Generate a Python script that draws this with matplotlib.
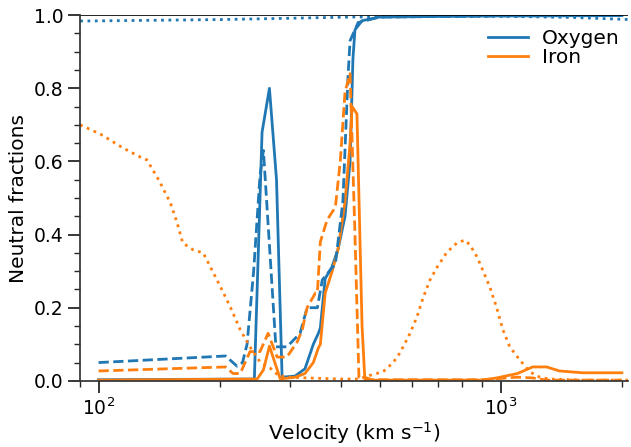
import matplotlib
matplotlib.use("Agg")
import matplotlib.pyplot as plt
from matplotlib.ticker import AutoMinorLocator

# velocity grids (km/s) and neutral fractions
v_o_solid = [100, 244, 255, 266, 277, 286, 308, 326, 342, 352, 356, 366, 380, 394,
             410, 422, 429, 434, 452, 500, 1000, 2000]
f_o_solid = [0.003, 0.005, 0.68, 0.80, 0.55, 0.01, 0.013, 0.033, 0.10, 0.13, 0.145, 0.28,
             0.31, 0.36, 0.45, 0.60, 0.88, 0.96, 0.985, 0.995, 0.998, 0.999]

v_o_dashed = [100, 207, 221, 228, 234, 243, 252, 257, 276, 294, 317, 330, 346, 350,
              360, 388, 405, 417, 422, 442, 500, 1000, 2000]
f_o_dashed = [0.05, 0.068, 0.04, 0.05, 0.10, 0.30, 0.56, 0.63, 0.093, 0.093, 0.13, 0.20,
              0.20, 0.20, 0.276, 0.32, 0.49, 0.83, 0.93, 0.98, 0.995, 0.998, 0.999]

v_o_dotted = [90, 200, 430, 1000, 1500, 2100]
f_o_dotted = [0.984, 0.988, 0.995, 0.997, 0.994, 0.988]

v_fe_solid = [100, 248, 257, 266, 283, 308, 326, 342, 352, 356, 366, 381, 394, 410,
              422, 427, 439, 452, 459, 480, 900, 977, 1100, 1200, 1300, 1400, 1600, 2000]
f_fe_solid = [0.002, 0.005, 0.03, 0.095, 0.005, 0.01, 0.02, 0.05, 0.09, 0.10, 0.24, 0.30,
              0.36, 0.49, 0.65, 0.75, 0.73, 0.15, 0.01, 0.002, 0.002, 0.008, 0.02, 0.038,
              0.038, 0.027, 0.022, 0.022]

v_fe_dashed = [100, 207, 216, 225, 238, 252, 264, 278, 294, 312, 321, 330, 346, 350,
               356, 370, 388, 399, 410, 422, 434, 444, 460, 900, 1100, 1200, 1300, 2000]
f_fe_dashed = [0.027, 0.038, 0.02, 0.02, 0.08, 0.08, 0.13, 0.065, 0.065, 0.107, 0.14,
               0.20, 0.24, 0.24, 0.38, 0.44, 0.475, 0.60, 0.79, 0.84, 0.40, 0.01, 0.003,
               0.003, 0.01, 0.008, 0.002, 0.002]

v_fe_dotted = [90, 101, 115, 127, 132, 142, 151, 157, 162, 172, 182, 190, 201, 213, 225,
               238, 252, 267, 280, 294, 330, 400, 444, 473, 510, 540, 562, 595, 619, 641,
               667, 694, 735, 778, 814, 838, 872, 902, 939, 977, 1012, 1053, 1115, 1180,
               1250, 1323, 1600, 2100]
f_fe_dotted = [0.70, 0.675, 0.637, 0.612, 0.604, 0.544, 0.486, 0.43, 0.377, 0.358, 0.35,
               0.31, 0.257, 0.20, 0.14, 0.093, 0.052, 0.035, 0.015, 0.01, 0.008, 0.005,
               0.005, 0.015, 0.025, 0.05, 0.077, 0.13, 0.175, 0.227, 0.276, 0.31, 0.352,
               0.377, 0.385, 0.372, 0.34, 0.303, 0.257, 0.20, 0.14, 0.093, 0.057, 0.025,
               0.01, 0.005, 0.002, 0.002]

plt.rcParams['font.family'] = 'DejaVu Sans'

fig = plt.figure(figsize=(6.31, 4.47), dpi=100)
ax = fig.add_axes([0.127, 0.148, 0.868, 0.818])

lw = 2.0
ax.plot(v_o_solid, f_o_solid, color='C0', lw=lw, label='Oxygen')
ax.plot(v_fe_solid, f_fe_solid, color='C1', lw=lw, label='Iron')
ax.plot(v_o_dashed, f_o_dashed, color='C0', lw=lw, ls='--')
ax.plot(v_fe_dashed, f_fe_dashed, color='C1', lw=lw, ls='--')
ax.plot(v_o_dotted, f_o_dotted, color='C0', lw=lw, ls=':')
ax.plot(v_fe_dotted, f_fe_dotted, color='C1', lw=lw, ls=':')
ax.axhline(1.0, color='k', lw=1.2)

ax.set_xscale('log')
ax.set_xlim(90, 2070)
ax.set_ylim(0, 1.0)
ax.yaxis.set_minor_locator(AutoMinorLocator(4))

for s in ['top', 'right']:
    ax.spines[s].set_visible(False)
for s in ['left', 'bottom']:
    ax.spines[s].set_color('0.2')
    ax.spines[s].set_linewidth(1.25)
ax.tick_params(which='major', length=8.5, width=1.3, color='0.15', labelsize=13.5)
ax.tick_params(which='minor', length=4.5, width=1.0, color='0.15')

ax.set_xlabel(r'Velocity (km s$^{-1}$)', fontsize=14.5, labelpad=1)
ax.set_ylabel('Neutral fractions', fontsize=14.5)
ax.legend(loc='upper right', frameon=False, fontsize=14.5, handlelength=2.0,
          handletextpad=0.7, labelspacing=0.0, borderaxespad=0.0,
          bbox_to_anchor=(1.0, 0.985))

fig.savefig('out.png', dpi=100)
